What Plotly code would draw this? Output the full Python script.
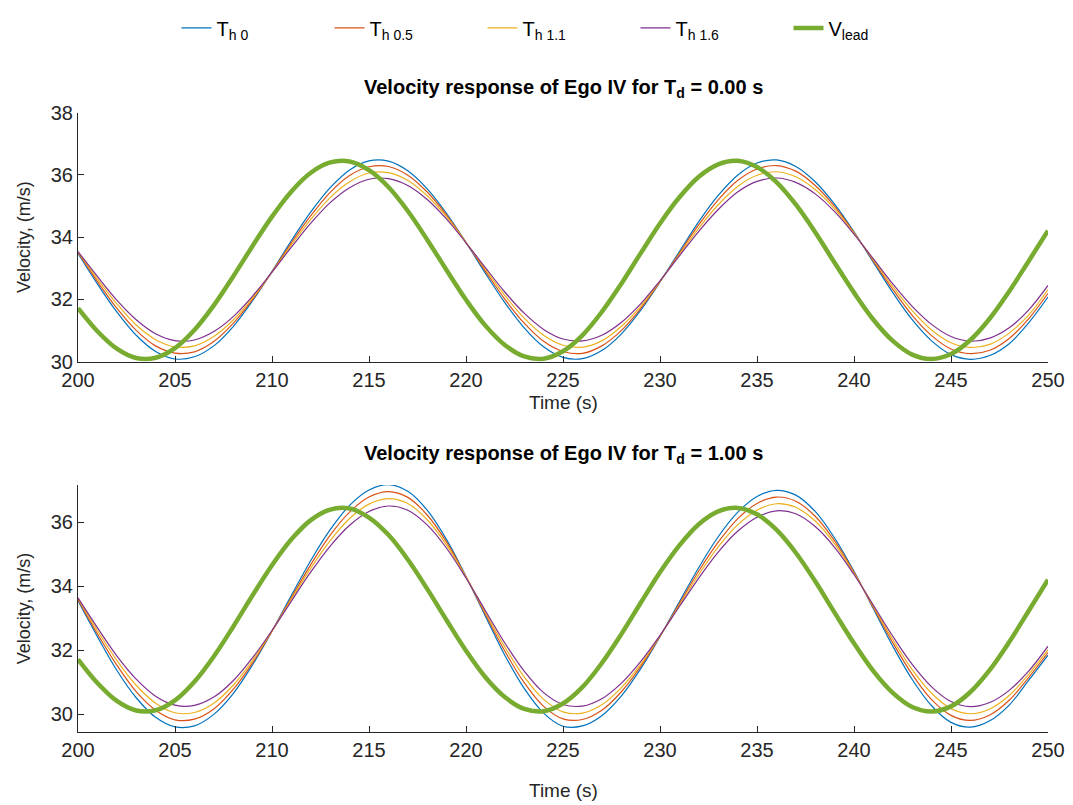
import plotly.graph_objects as go

# ---------------- data ----------------
time_s = list(range(200, 251))

v_lead = [31.72, 30.98, 30.42, 30.12, 30.13, 30.44, 31.02, 31.81, 32.74, 33.72,
          34.66, 35.47, 36.07, 36.40, 36.43, 36.15, 35.61, 34.84, 33.92, 32.94,
          31.99, 31.16, 30.54, 30.17, 30.10, 30.34, 30.85, 31.60, 32.50, 33.48,
          34.44, 35.28, 35.94, 36.34, 36.45, 36.25, 35.77, 35.05, 34.16, 33.18,
          32.22, 31.35, 30.67, 30.23, 30.09, 30.25, 30.70, 31.39, 32.26, 33.23, 34.21]

# Td = 0.00 s
top_th0 = [33.48, 32.50, 31.60, 30.85, 30.33, 30.09, 30.16, 30.51, 31.13, 31.96,
           32.90, 33.89, 34.81, 35.59, 36.16, 36.45, 36.44, 36.13, 35.55, 34.76,
           33.83, 32.84, 31.90, 31.09, 30.48, 30.14, 30.10, 30.36, 30.89, 31.65,
           32.56, 33.54, 34.50, 35.34, 35.99, 36.38, 36.48, 36.27, 35.78, 35.06,
           34.17, 33.19, 32.22, 31.35, 30.67, 30.23, 30.08, 30.20, 30.58, 31.25, 32.08]
top_th05 = [33.51, 32.58, 31.72, 31.01, 30.51, 30.28, 30.32, 30.65, 31.23, 32.00,
            32.89, 33.82, 34.69, 35.44, 35.98, 36.26, 36.27, 35.99, 35.45, 34.71,
            33.83, 32.91, 32.01, 31.24, 30.66, 30.33, 30.27, 30.51, 31.00, 31.71,
            32.57, 33.49, 34.40, 35.20, 35.82, 36.19, 36.30, 36.12, 35.66, 34.99,
            34.15, 33.23, 32.32, 31.49, 30.84, 30.41, 30.26, 30.37, 30.75, 31.38, 32.20]
top_th11 = [33.53, 32.66, 31.86, 31.18, 30.71, 30.48, 30.51, 30.81, 31.34, 32.05,
            32.88, 33.75, 34.57, 35.27, 35.78, 36.06, 36.07, 35.82, 35.33, 34.65,
            33.83, 32.97, 32.13, 31.40, 30.85, 30.53, 30.47, 30.67, 31.13, 31.78,
            32.58, 33.44, 34.29, 35.04, 35.63, 35.99, 36.10, 35.94, 35.53, 34.91,
            34.13, 33.27, 32.41, 31.64, 31.02, 30.61, 30.46, 30.56, 30.92, 31.50, 32.32]
top_th16 = [33.54, 32.74, 31.98, 31.35, 30.90, 30.68, 30.70, 30.97, 31.45, 32.11,
            32.88, 33.68, 34.45, 35.11, 35.59, 35.86, 35.88, 35.66, 35.21, 34.58,
            33.82, 33.02, 32.24, 31.56, 31.04, 30.73, 30.67, 30.85, 31.26, 31.86,
            32.60, 33.40, 34.19, 34.89, 35.45, 35.79, 35.90, 35.76, 35.39, 34.82,
            34.10, 33.30, 32.50, 31.78, 31.20, 30.81, 30.66, 30.76, 31.09, 31.66, 32.45]

# Td = 1.00 s
bot_th0 = [33.55, 32.43, 31.38, 30.52, 29.91, 29.61, 29.64, 30.00, 30.65, 31.55,
           32.60, 33.72, 34.81, 35.77, 36.53, 37.01, 37.18, 36.97, 36.38, 35.46,
           34.31, 33.07, 31.85, 30.81, 30.04, 29.63, 29.64, 29.96, 30.57, 31.42,
           32.43, 33.52, 34.59, 35.55, 36.31, 36.81, 37.00, 36.85, 36.34, 35.51,
           34.47, 33.30, 32.13, 31.09, 30.27, 29.75, 29.60, 29.80, 30.29, 31.06, 31.85]
bot_th05 = [33.59, 32.52, 31.54, 30.71, 30.13, 29.83, 29.85, 30.17, 30.78, 31.61,
            32.60, 33.65, 34.68, 35.60, 36.32, 36.79, 36.96, 36.78, 36.23, 35.38,
            34.30, 33.13, 31.98, 30.99, 30.25, 29.86, 29.84, 30.13, 30.70, 31.49,
            32.44, 33.46, 34.48, 35.38, 36.11, 36.59, 36.79, 36.66, 36.19, 35.42,
            34.44, 33.34, 32.24, 31.25, 30.46, 29.97, 29.81, 29.98, 30.44, 31.15, 31.93]
bot_th11 = [33.62, 32.62, 31.69, 30.91, 30.35, 30.05, 30.06, 30.35, 30.91, 31.69,
            32.61, 33.60, 34.57, 35.43, 36.12, 36.57, 36.74, 36.59, 36.08, 35.29,
            34.29, 33.19, 32.11, 31.17, 30.47, 30.08, 30.04, 30.30, 30.83, 31.56,
            32.45, 33.41, 34.37, 35.23, 35.92, 36.38, 36.58, 36.47, 36.04, 35.33,
            34.41, 33.38, 32.34, 31.40, 30.66, 30.18, 30.02, 30.17, 30.59, 31.25, 32.02]
bot_th16 = [33.64, 32.71, 31.83, 31.10, 30.57, 30.29, 30.28, 30.54, 31.05, 31.77,
            32.62, 33.54, 34.45, 35.26, 35.91, 36.34, 36.51, 36.38, 35.92, 35.19,
            34.26, 33.24, 32.23, 31.35, 30.68, 30.31, 30.26, 30.49, 30.97, 31.65,
            32.47, 33.37, 34.26, 35.07, 35.72, 36.16, 36.36, 36.27, 35.87, 35.22,
            34.37, 33.41, 32.44, 31.56, 30.86, 30.40, 30.24, 30.37, 30.75, 31.35, 32.13]

series_names = ["T<sub>h 0</sub>", "T<sub>h 0.5</sub>", "T<sub>h 1.1</sub>", "T<sub>h 1.6</sub>"]
lead_name = "V<sub>lead</sub>"
titles = ["<b>Velocity response of Ego IV for T<sub>d</sub> = 0.00 s</b>",
          "<b>Velocity response of Ego IV for T<sub>d</sub> = 1.00 s</b>"]
x_label = "Time (s)"
y_label = "Velocity, (m/s)"
x_ticks = list(range(200, 251, 5))
top_y_ticks = [30, 32, 34, 36, 38]
bot_y_ticks = [30, 32, 34, 36]

# ---------------- styling ----------------
colors = ["#0072BD", "#D95319", "#EDB120", "#7E2F8E"]
lead_color = "#77AC30"
FONT = "Liberation Sans, Arial, Helvetica, sans-serif"
AX = "#262626"
OFF = 8                       # page body margin
W, H = 1073 - OFF, 805 - OFF  # figure size inside the page


def px(x):
    return (x - OFF) / W


def py(y):
    return 1 - (y - OFF) / H


fig = go.Figure()
panels = [([top_th0, top_th05, top_th11, top_th16], "x", "y", True),
          ([bot_th0, bot_th05, bot_th11, bot_th16], "x2", "y2", False)]
for ego, xa, ya, show in panels:
    for name, vals, col in zip(series_names, ego, colors):
        fig.add_trace(go.Scatter(x=time_s, y=vals, mode="lines", name=name,
                                 line=dict(color=col, width=1.2, shape="spline", smoothing=1.0),
                                 xaxis=xa, yaxis=ya, showlegend=show, legendgroup=name))
    fig.add_trace(go.Scatter(x=time_s, y=v_lead, mode="lines", name=lead_name,
                             line=dict(color=lead_color, width=4.5, shape="spline", smoothing=1.0),
                             xaxis=xa, yaxis=ya, showlegend=show, legendgroup=lead_name))

axis_common = dict(showline=True, linecolor=AX, linewidth=1, ticks="inside", ticklen=6,
                   tickcolor=AX, tickwidth=1, showgrid=False, zeroline=False, mirror=False,
                   tickfont=dict(family=FONT, size=20, color=AX), automargin=False)
xdom = [px(78), px(1048)]
ytitle = dict(text=y_label, font=dict(family=FONT, size=18, color=AX), standoff=15)

annos = []
for txt, yy in [(titles[0], 78), (titles[1], 449)]:
    annos.append(dict(text=txt, xref="paper", yref="paper", x=px(563), y=py(yy),
                      xanchor="center", yanchor="middle", showarrow=False,
                      font=dict(family=FONT, size=20, color="black")))
for yy in [396, 790]:
    annos.append(dict(text=x_label, xref="paper", yref="paper", x=px(563), y=py(yy),
                      xanchor="center", yanchor="middle", showarrow=False,
                      font=dict(family=FONT, size=19, color=AX)))

fig.update_layout(
    width=W, height=H, template="none",
    paper_bgcolor="white", plot_bgcolor="white",
    margin=dict(l=0, r=0, t=0, b=0),
    font=dict(family=FONT, color=AX),
    xaxis=dict(domain=xdom, anchor="y", range=[200, 250], tickvals=x_ticks, **axis_common),
    yaxis=dict(domain=[py(355), py(102)], anchor="x", range=[30, 38],
               tickvals=top_y_ticks, title=ytitle, **axis_common),
    xaxis2=dict(domain=xdom, anchor="y2", range=[200, 250], tickvals=x_ticks, **axis_common),
    yaxis2=dict(domain=[py(731), py(480)], anchor="x2", range=[29.446, 37.17],
                tickvals=bot_y_ticks, title=ytitle, **axis_common),
    legend=dict(orientation="h", x=px(559), xanchor="center", y=py(16), yanchor="middle",
                font=dict(family=FONT, size=20, color="black"), bgcolor="rgba(0,0,0,0)",
                entrywidth=108, entrywidthmode="pixels", traceorder="normal"),
    annotations=annos,
)

fig.write_html("out.html")
